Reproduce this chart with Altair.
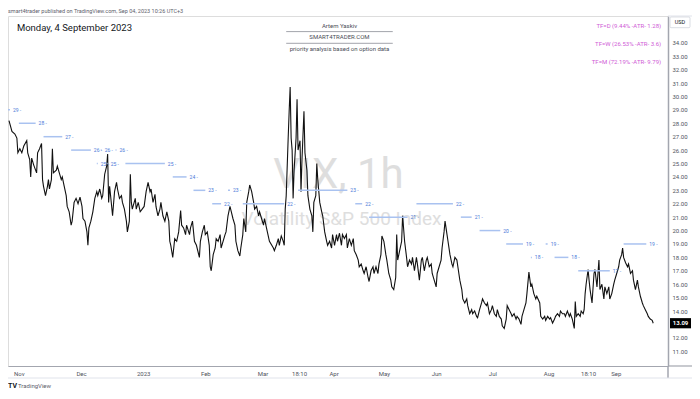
import altair as alt
import pandas as pd

# ---------------- data (bar index, close) ----------------
seg_nov_dec = [(4, 28.2), (7, 27.4), (10, 27.2), (12, 26.9), (13, 25.8), (15, 26.1), (17, 25.8), (19, 26.3),
               (22, 26.7), (23, 25.8), (25, 25.3), (26, 24.0), (27, 25.4), (29, 24.9), (32, 24.3), (33, 25.8),
               (35, 26.1), (37, 26.5), (38, 23.8), (39, 23.3), (41, 22.6), (43, 23.3), (44, 23.8), (45, 23.1),
               (47, 23.8), (48, 26.1), (49, 24.3), (52, 24.5), (53, 24.8), (55, 24.3), (57, 23.8), (58, 24.0),
               (60, 23.3), (62, 22.6), (63, 21.8), (65, 21.4), (67, 20.4), (68, 20.7), (70, 22.1), (72, 22.4),
               (74, 22.0), (76, 22.5), (78, 21.8), (79, 20.9), (81, 20.7), (83, 19.9), (84, 18.9), (85, 20.2),
               (87, 20.7), (89, 21.4), (91, 22.4), (93, 22.9), (94, 22.6), (96, 23.1), (98, 22.4), (99, 22.6),
               (101, 24.2), (103, 24.8), (104, 25.7), (105, 22.1), (106, 23.3), (107, 22.6), (109, 21.1),
               (111, 22.9), (113, 23.6), (114, 23.1), (116, 22.4), (118, 22.6), (119, 22.1), (121, 21.6),
               (123, 20.7), (124, 19.9), (126, 20.7), (127, 24.2), (128, 22.1), (129, 21.6), (132, 22.4),
               (133, 21.6), (135, 22.1), (137, 21.4), (139, 21.6)]
seg_jan_feb = [(141, 21.8), (143, 22.9), (145, 23.6), (147, 22.9), (148, 23.1), (150, 22.1), (152, 22.7),
               (153, 21.8), (155, 21.1), (157, 21.6), (158, 22.1), (160, 21.1), (162, 20.7), (164, 21.4),
               (166, 20.7), (167, 19.2), (168, 18.9), (170, 18.0), (172, 19.4), (174, 19.2), (176, 19.9),
               (178, 21.5), (179, 20.4), (181, 20.2), (183, 19.7), (184, 20.4), (187, 19.7), (188, 20.2),
               (190, 20.7), (192, 19.2), (194, 18.9), (197, 18.0), (198, 19.2), (200, 19.9), (202, 20.4),
               (203, 19.7), (205, 19.9), (207, 18.9), (208, 17.3), (209, 17.0), (211, 18.2), (213, 18.7),
               (214, 19.4), (216, 19.2), (218, 19.7), (219, 18.7), (221, 19.2), (223, 19.7), (224, 19.9),
               (226, 21.1), (228, 21.8), (229, 21.5), (231, 20.9), (233, 20.4), (234, 19.2), (236, 18.5),
               (238, 18.1), (239, 18.7), (241, 19.7), (242, 20.9), (244, 19.9), (245, 22.1), (247, 22.9),
               (248, 23.4), (250, 22.9), (252, 22.1), (253, 21.6), (255, 21.8), (257, 21.1), (258, 21.4),
               (260, 20.9), (262, 20.4), (263, 20.9), (265, 20.2), (268, 19.2), (272, 18.7)]
seg_mar_apr = [(273, 18.5), (275, 18.9), (277, 19.4), (278, 18.9), (280, 19.6), (282, 19.2), (283, 18.9),
               (284, 21.6), (285, 22.6), (287, 26.9), (288, 28.9), (289, 30.7), (290, 26.9), (291, 26.0),
               (292, 22.4), (293, 24.5), (295, 26.9), (296, 29.8), (297, 26.0), (299, 26.7), (300, 22.9),
               (301, 25.3), (303, 28.9), (304, 25.8), (306, 24.5), (307, 22.6), (309, 21.6), (311, 21.1),
               (312, 19.9), (313, 22.1), (315, 22.6), (316, 25.0), (317, 23.8), (319, 22.1), (321, 21.4),
               (322, 21.1), (324, 19.9), (326, 19.2), (327, 18.9), (329, 19.2), (331, 18.7), (332, 19.7),
               (334, 18.9), (336, 19.7), (337, 19.2), (339, 19.8), (341, 18.9), (342, 19.7), (344, 19.4),
               (346, 19.7), (347, 18.7), (349, 19.4), (351, 18.9), (353, 19.4), (354, 18.5), (356, 18.2),
               (358, 17.8), (359, 17.3), (361, 17.5), (363, 17.0), (364, 16.8), (366, 17.3), (368, 16.5),
               (369, 16.2), (371, 17.0), (373, 17.3), (374, 16.8), (376, 17.3), (378, 16.8), (379, 17.5),
               (381, 18.2), (382, 19.6), (384, 19.2), (386, 18.2), (387, 17.8), (389, 16.8), (391, 16.3),
               (392, 15.8), (394, 15.6), (396, 16.5), (397, 19.7), (398, 17.8), (400, 18.5), (402, 19.2),
               (403, 21.1)]
seg_may_jun = [(405, 19.2), (407, 18.0), (408, 17.3), (410, 17.8), (412, 17.5), (413, 18.0), (415, 17.0),
               (417, 18.0), (418, 17.5), (420, 16.3), (422, 17.8), (423, 18.0), (425, 17.0), (427, 17.8),
               (428, 18.0), (430, 17.3), (432, 17.5), (433, 16.8), (435, 16.3), (437, 15.8), (438, 16.8),
               (440, 17.3), (442, 17.8), (443, 18.7), (445, 19.9), (446, 20.7), (448, 19.7), (449, 19.2),
               (451, 18.2), (453, 17.5), (454, 17.3), (456, 18.0), (458, 17.8), (459, 17.3), (461, 16.3),
               (463, 15.6), (464, 14.9), (466, 14.6), (468, 14.9), (469, 14.4), (471, 13.8), (473, 14.1),
               (474, 13.8), (476, 14.0), (478, 13.6), (479, 13.5), (481, 14.1), (483, 14.6), (484, 14.9),
               (486, 14.6), (488, 14.4), (489, 14.6), (491, 13.8), (493, 14.1), (494, 14.4), (496, 13.8),
               (498, 13.6), (499, 14.1), (501, 13.6), (503, 13.4), (504, 12.9), (506, 12.7), (508, 13.4),
               (509, 14.4), (511, 14.1), (513, 13.8), (514, 13.6), (516, 13.8), (518, 13.4), (519, 13.6),
               (521, 13.4), (523, 13.0), (524, 13.6), (526, 14.1), (528, 14.6), (529, 15.3), (531, 16.9),
               (533, 15.8), (534, 16.0), (536, 15.3), (538, 14.9), (539, 15.1)]
seg_jul_sep = [(542, 14.6), (543, 13.6), (545, 13.4), (547, 13.6), (548, 13.3), (550, 13.6), (552, 13.4),
               (553, 13.5), (555, 13.1), (557, 13.4), (558, 13.6), (560, 13.8), (562, 13.6), (563, 14.0),
               (565, 13.8), (567, 13.8), (568, 13.6), (570, 14.0), (572, 13.6), (573, 13.8), (575, 13.4),
               (577, 12.7), (578, 14.7), (579, 13.6), (581, 13.8), (583, 13.6), (584, 14.0), (586, 13.8),
               (587, 14.1), (588, 15.3), (589, 16.0), (591, 17.1), (592, 16.3), (593, 15.6), (595, 14.6),
               (597, 16.8), (598, 17.1), (600, 15.8), (602, 17.8), (603, 15.6), (605, 16.0), (607, 14.9),
               (608, 15.8), (610, 15.3), (612, 15.8), (613, 14.9), (615, 15.3), (617, 16.0), (618, 16.3),
               (620, 16.8), (622, 17.3), (623, 17.8), (625, 18.2), (626, 18.7), (627, 18.0), (629, 17.6),
               (631, 17.3), (632, 17.5), (634, 16.8), (636, 17.0), (637, 16.3), (639, 15.6), (641, 16.3),
               (642, 15.8), (644, 15.1), (646, 14.6), (647, 14.4), (649, 14.1), (651, 13.8), (652, 13.6),
               (654, 13.4), (656, 13.3), (657, 13.09)]

# option levels: price, start bar, end bar
level_price = [29, 28, 27, 26, 25, 26, 25, 26, 25, 24, 23, 22, 23, 22, 23, 22, 21, 22, 21, 20, 19, 18, 19, 18, 17, 19]
level_from = [3, 14, 39, 67, 93, 97, 103, 112, 122, 170, 191, 210, 226, 241, 297, 355, 369, 417, 462, 481, 508, 533, 548, 557, 581, 627]
level_to = [5, 31, 58, 87, 94, 98, 104, 113, 162, 184, 203, 219, 228, 283, 347, 362, 408, 454, 473, 502, 525, 534, 550, 571, 613, 650]

price_ticks = [11, 12, 14, 15, 16, 17, 18, 19, 20, 21, 22, 23, 24, 25, 26, 27, 28, 29, 30, 31, 32, 33, 34]
time_tick_bars = [14, 77, 140, 203, 261, 298, 333, 384, 437, 494, 551, 591, 619]
time_tick_labels = ["Nov", "Dec", "2023", "Feb", "Mar", "18:10", "Apr", "May", "Jun", "Jul", "Aug", "18:10", "Sep"]
last_price = 13.09

tf_lines = ["TF=D (9.44% -ATR- 1.28)", "TF=W (26.53% -ATR- 3.6)", "TF=M (72.19% -ATR- 9.79)"]
header_lines = ["Artem Yaskiv", "SMART4TRADER.COM", "priority analysis based on option data"]

# ---------------- layout ----------------
W, H = 660, 350
FONT = "Roboto"


def rx(r):
    return (r - 3) * W / 669


def ry(r):
    return (r - 12) * H / 359


path = seg_nov_dec + seg_jan_feb + seg_mar_apr + seg_may_jun + seg_jul_sep
df = pd.DataFrame({"bar": [p[0] for p in path], "close": [p[1] for p in path]})
lv = pd.DataFrame({"price": level_price, "start": level_from, "end": level_to,
                   "label": [f"{p} -" for p in level_price]})

xs = alt.Scale(domain=[3, 672], nice=False, zero=False)
ys = alt.Scale(domain=[9.9, 36.0], nice=False, zero=False)

expr = "''"
for b, l in reversed(list(zip(time_tick_bars, time_tick_labels))):
    expr = f"datum.value == {b} ? '{l}' : ({expr})"

X_AX = alt.Axis(values=time_tick_bars, labelExpr=expr, title=None, grid=False, ticks=False,
                labelFontSize=6, labelColor="#50535e", labelPadding=4, labelFlush=False,
                labelOverlap=False, domainColor="#a3a6af", domainWidth=1.2, labelFont=FONT)
Y_AX = alt.Axis(orient="right", values=price_ticks, format=".2f", title=None, grid=False, ticks=False,
                labelFontSize=6, labelColor="#50535e", labelPadding=4, domainColor="#a3a6af",
                domainWidth=1.5, labelFont=FONT)


def txt(text, x, y, size, color, align="left", baseline="middle", weight="normal"):
    return alt.Chart(pd.DataFrame({"t": [text]})).mark_text(
        fontSize=size, color=color, align=align, baseline=baseline, font=FONT, fontWeight=weight
    ).encode(x=alt.value(x), y=alt.value(y), text="t:N")


def seg(x1, x2, y1, y2, color, width=1.0):
    return alt.Chart(pd.DataFrame({"a": [0]})).mark_rule(color=color, strokeWidth=width).encode(
        x=alt.value(x1), x2=alt.value(x2), y=alt.value(y1), y2=alt.value(y2))


layers = []
# watermark
layers.append(txt("VIX, 1h", rx(338), ry(188), 42, "#dedede", align="center", baseline="alphabetic"))
layers.append(txt("Volatility S&P 500 Index", rx(341), ry(226), 19, "#dedede", align="center", baseline="alphabetic"))

# price line
layers.append(alt.Chart(df).mark_line(color="#111111", strokeWidth=1.1).encode(
    x=alt.X("bar:Q", scale=xs, axis=X_AX), y=alt.Y("close:Q", scale=ys, axis=Y_AX)))

# option levels
layers.append(alt.Chart(lv).mark_rule(color="#a9c2f0", strokeWidth=1.5).encode(
    x=alt.X("start:Q", scale=xs, axis=X_AX), x2="end:Q", y=alt.Y("price:Q", scale=ys, axis=Y_AX)))
layers.append(alt.Chart(lv).mark_text(fontSize=5, color="#4a78d8", align="left", dx=3, font=FONT).encode(
    x=alt.X("end:Q", scale=xs, axis=X_AX), y=alt.Y("price:Q", scale=ys, axis=Y_AX), text="label:N"))

# header texts
layers.append(txt("smart4trader published on TradingView.com, Sep 04, 2023 10:26 UTC+3", 0, -5, 5.5, "#5d606b"))
layers.append(txt("Monday, 4 September 2023", rx(12), ry(24), 9.5, "#131722"))
for t, yy in zip(header_lines, [22, 34, 46]):
    layers.append(txt(t, rx(339), ry(yy), 6, "#4a4d57", align="center"))
layers.append(seg(rx(285), rx(393), ry(28), ry(28), "#8a8d96", 0.8))
layers.append(seg(rx(285), rx(393), ry(40), ry(40), "#8a8d96", 0.8))
for t, yy in zip(tf_lines, [22, 41, 59]):
    layers.append(txt(t, rx(665), ry(yy), 6, "#cf5ad6", align="right"))

# frame extensions
layers.append(seg(W, W, H, H + 12, "#a3a6af", 1.5))
layers.append(seg(W, W + 24, H, H, "#a3a6af", 1.2))
layers.append(seg(0, W + 24, H + 12, H + 12, "#e0e3eb", 1))
layers.append(seg(W, W + 24, 0, 0, "#e0e3eb", 1))

# USD box
layers.append(alt.Chart(pd.DataFrame({"a": [0]})).mark_rect(fill="white", stroke="#d1d4dc", strokeWidth=0.8,
                                                            cornerRadius=1).encode(
    x=alt.value(W + 2), x2=alt.value(W + 22), y=alt.value(ry(13)), y2=alt.value(ry(24))))
layers.append(txt("USD", W + 12, ry(18.5), 5.5, "#131722", align="center"))

# last price tag
lp = pd.DataFrame({"price": [last_price]})
layers.append(alt.Chart(lp).transform_calculate(lo="datum.price - 0.38", hi="datum.price + 0.38").mark_rect(
    fill="#000000").encode(x=alt.value(W + 2), x2=alt.value(W + 23),
                           y=alt.Y("lo:Q", scale=ys, axis=Y_AX), y2="hi:Q"))
layers.append(alt.Chart(lp).mark_text(fontSize=6, color="white", align="center", font=FONT,
                                      fontWeight="bold").encode(
    x=alt.value(W + 12.5), y=alt.Y("price:Q", scale=ys, axis=Y_AX), text=alt.Text("price:Q", format=".2f")))

# logo
layers.append(txt("TV", 0, ry(392), 7, "#131722", weight="bold"))
layers.append(txt("TradingView", 10, ry(392), 6, "#5d606b"))

chart = alt.layer(*layers).properties(
    width=W, height=H,
    autosize=alt.AutoSizeParams(type="none"),
    padding={"left": 0, "top": 8, "right": 24, "bottom": 25},
    background="white",
).configure_view(stroke="#e0e3eb").configure(font=FONT)

chart.save("out.html", embed_options={"renderer": "svg", "actions": False})
